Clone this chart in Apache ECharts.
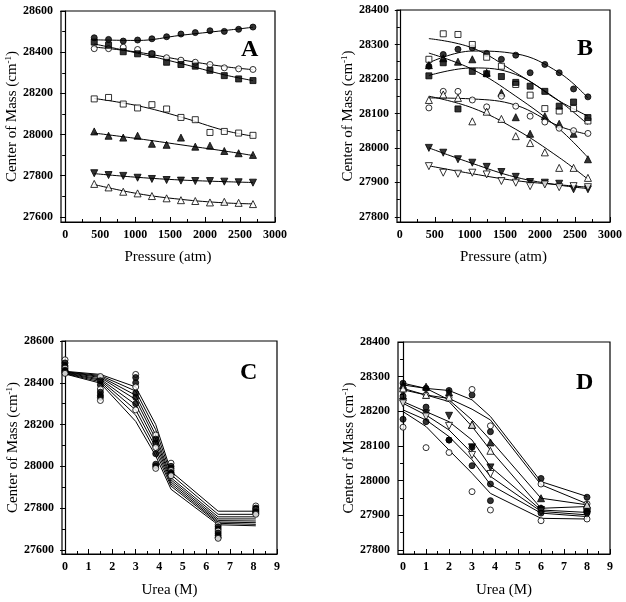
<!DOCTYPE html>
<html>
<head>
<meta charset="utf-8">
<script src="https://cdn.jsdelivr.net/npm/echarts@6/dist/echarts.min.js"></script>
<style>
html,body{margin:0;padding:0;background:#fff;}
#chart{width:626px;height:602px;}
</style>
</head>
<body>
<div id="chart"></div>
<script>
// ---------- Panel A / B : pressure ----------
const pressure = [415, 620, 830, 1035, 1240, 1450, 1655, 1860, 2070, 2275, 2480, 2685];
const fitPressure = [415, 1035, 1655, 2275, 2685];

const aFilledCircle = [28470, 28462, 28454, 28459, 28465, 28475, 28488, 28495, 28504, 28501, 28511, 28522];
const aOpenCircle   = [28417, 28417, 28424, 28413, 28394, 28373, 28361, 28351, 28340, 28324, 28319, 28316];
const aFilledSquare = [28449, 28434, 28402, 28392, 28389, 28351, 28340, 28332, 28312, 28286, 28270, 28262];
const aOpenSquare   = [28173, 28180, 28148, 28129, 28145, 28124, 28083, 28072, 28010, 28015, 28007, 27996];
const aFilledTri    = [28015, 27994, 27985, 27994, 27955, 27950, 27985, 27941, 27946, 27920, 27909, 27901];
const aFilledDown   = [27812, 27803, 27799, 27790, 27784, 27779, 27776, 27774, 27774, 27771, 27768, 27766];
const aOpenTri      = [27760, 27743, 27722, 27714, 27701, 27690, 27681, 27677, 27670, 27673, 27668, 27662];

const aFitFilledCircle = [28460, 28457, 28482, 28505, 28521];
const aFitOpenCircle   = [28425, 28400, 28363, 28330, 28315];
const aFitFilledSquare = [28440, 28395, 28345, 28290, 28262];
const aFitOpenSquare   = [28175, 28140, 28085, 28020, 27992];
const aFitFilledTri    = [28007, 27980, 27950, 27920, 27898];
const aFitFilledDown   = [27810, 27792, 27779, 27771, 27767];
const aFitOpenTri      = [27757, 27713, 27685, 27668, 27663];

const bFilledCircle = [28237, 28271, 28286, 28290, 28274, 28257, 28269, 28218, 28242, 28218, 28171, 28148];
const bOpenSquare   = [28257, 28331, 28329, 28300, 28263, 28237, 28184, 28153, 28114, 28107, 28114, 28078];
const bFilledSquare = [28209, 28247, 28113, 28222, 28215, 28207, 28190, 28179, 28164, 28121, 28133, 28088];
const bFilledTri    = [28240, 28260, 28250, 28257, 28218, 28160, 28089, 28041, 28092, 28070, 28041, 27967];
const bOpenCircle   = [28116, 28164, 28164, 28139, 28119, 28150, 28121, 28092, 28075, 28057, 28050, 28042];
const bOpenTri      = [28139, 28155, 28145, 28077, 28105, 28084, 28034, 28014, 27987, 27942, 27942, 27913];
const bFilledDown   = [28000, 27986, 27967, 27957, 27945, 27930, 27916, 27901, 27899, 27896, 27880, 27880];
const bOpenDown     = [27947, 27928, 27925, 27928, 27923, 27904, 27899, 27889, 27894, 27886, 27889, 27886];

const bFitFilledCircle = [28247, 28281, 28273, 28218, 28145];
const bFitOpenSquare   = [28317, 28290, 28218, 28136, 28068];
const bFitFilledSquare = [28210, 28232, 28213, 28136, 28092];
const bFitFilledTri    = [28275, 28228, 28150, 28055, 27972];
const bFitOpenCircle   = [28145, 28142, 28124, 28063, 28039];
const bFitOpenTri      = [28150, 28116, 28054, 27972, 27909];
const bFitFilledDown   = [28000, 27955, 27915, 27892, 27882];
const bFitOpenDown     = [27948, 27925, 27905, 27893, 27886];

// ---------- Panel C : urea ----------
const ureaC = [0, 1.5, 3, 3.85, 4.5, 6.5, 8.1];
const cFit1 = [28455, 28440, 28380, 28200, 27975, 27785, 27785];
const cFit2 = [28453, 28435, 28360, 28175, 27960, 27770, 27770];
const cFit3 = [28452, 28430, 28340, 28150, 27945, 27758, 27758];
const cFit4 = [28450, 28425, 28320, 28130, 27935, 27748, 27748];
const cFit5 = [28448, 28418, 28295, 28110, 27925, 27740, 27738];
const cFit6 = [28446, 28412, 28270, 28090, 27915, 27733, 27730];
const cFit7 = [28444, 28405, 28245, 28070, 27905, 27727, 27722];
const cFit8 = [28442, 28398, 28215, 28050, 27890, 27720, 27715];
const cData1 = [28510, 28430, 28440, 28150, 28015, 27720, 27810];
const cData2 = [28495, 28410, 28425, 28130, 28000, 27710, 27800];
const cData3 = [28480, 28390, 28400, 28110, 27990, 27700, 27795];
const cData4 = [28470, 28370, 28380, 28090, 27980, 27690, 27790];
const cData5 = [28460, 28355, 28350, 28060, 27970, 27680, 27785];
const cData6 = [28455, 28340, 28330, 28010, 27965, 27670, 27780];
const cData7 = [28450, 28330, 28300, 28000, 27960, 27660, 27775];
const cData8 = [28445, 28315, 28270, 27990, 27955, 27655, 27770];

// ---------- Panel D : urea ----------
const ureaD = [0, 1, 2, 3, 3.8, 6, 8];
const dFit1 = [28281, 28266, 28260, 28233, 28185, 27997, 27954];
const dFit2 = [28262, 28247, 28237, 28206, 28175, 27988, 27933];
const dFit3 = [28276, 28266, 28233, 28175, 28117, 27949, 27930];
const dFit4 = [28266, 28247, 28228, 28156, 28088, 27920, 27925];
const dFit5 = [28228, 28199, 28170, 28117, 28040, 27915, 27908];
const dFit6 = [28223, 28189, 28146, 28079, 28012, 27911, 27901];
const dFit7 = [28204, 28175, 28127, 28060, 27988, 27906, 27896];
const dFit8 = [28199, 28156, 28088, 28021, 27963, 27891, 27889];
const dData1 = [28281, 28266, 28260, 28247, 28141, 28006, 27952];
const dData2 = [28262, 28247, 28240, 28263, 28158, 27990, 27933];
const dData3 = [28276, 28271, 28255, 28161, 28110, 27949, 27930];
const dData4 = [28266, 28247, 28240, 28161, 28086, 27920, 27930];
const dData5 = [28228, 28194, 28187, 28096, 28038, 27915, 27906];
const dData6 = [28223, 28185, 28158, 28074, 28019, 27911, 27901];
const dData7 = [28177, 28170, 28117, 28043, 27990, 27920, 27911];
const dData8 = [28154, 28095, 28081, 27968, 27915, 27884, 27889];
const dData9 = [28244, 28212, 28117, 28096, 27942, 27906, 27906];

// ---------- tick labels ----------
const pressureTicks = [0, 500, 1000, 1500, 2000, 2500, 3000];
const pressureMinor = [250, 750, 1250, 1750, 2250, 2750];
const ureaTicks = [0, 1, 2, 3, 4, 5, 6, 7, 8, 9];
const ureaMinor = [0.5, 1.5, 2.5, 3.5, 4.5, 5.5, 6.5, 7.5, 8.5];
const yTicksWide = [27600, 27800, 28000, 28200, 28400, 28600];
const yMinorWide = [27700, 27900, 28100, 28300, 28500];
const yTicksNarrow = [27800, 27900, 28000, 28100, 28200, 28300, 28400];
const yMinorNarrow = [27850, 27950, 28050, 28150, 28250, 28350];

// ---------- styling helpers ----------
const FONT = "'Liberation Serif', 'Times New Roman', serif";
const STY = {
  fc: {symbol: 'circle', fill: '#000', size: 6, rot: 0},
  oc: {symbol: 'circle', fill: '#fff', size: 6, rot: 0},
  fs: {symbol: 'rect', fill: '#000', size: 6, rot: 0},
  os: {symbol: 'rect', fill: '#fff', size: 6, rot: 0},
  ft: {symbol: 'triangle', fill: '#000', size: 7, rot: 0},
  ot: {symbol: 'triangle', fill: '#fff', size: 7, rot: 0},
  fd: {symbol: 'triangle', fill: '#000', size: 7, rot: 180},
  od: {symbol: 'triangle', fill: '#fff', size: 7, rot: 180}
};
function pairs(xs, ys){ return xs.map((x,i)=>[x, ys[i]]); }
function scatter(idx, xs, ys, key){
  const s = STY[key];
  return {type:'scatter', xAxisIndex: idx, yAxisIndex: idx, data: pairs(xs, ys),
    symbol: s.symbol, symbolSize: s.size, symbolRotate: s.rot, z: 5,
    itemStyle: {color: s.fill, borderColor: '#000', borderWidth: 1}, silent: true};
}
function line(idx, xs, ys, smooth){
  return {type:'line', xAxisIndex: idx, yAxisIndex: idx, data: pairs(xs, ys), smooth: smooth,
    showSymbol: false, symbol: 'none', z: 3, lineStyle: {color: '#000', width: 1}, silent: true};
}

const grids = [
  {left: 61, top: 11, width: 214, height: 211},
  {left: 397, top: 10, width: 213, height: 212},
  {left: 62, top: 341, width: 215, height: 213},
  {left: 398, top: 342, width: 212, height: 212}
].map(g => Object.assign(g, {show: true, borderColor: '#000', borderWidth: 1.2, backgroundColor: 'transparent'}));

const xSpecs = [
  {min: -60, max: 3000, ticks: pressureTicks, minor: pressureMinor, name: 'Pressure (atm)', gap: 28},
  {min: -40, max: 3000, ticks: pressureTicks, minor: pressureMinor, name: 'Pressure (atm)', gap: 28},
  {min: -0.13, max: 9, ticks: ureaTicks, minor: ureaMinor, name: 'Urea (M)', gap: 29},
  {min: -0.22, max: 9, ticks: ureaTicks, minor: ureaMinor, name: 'Urea (M)', gap: 29}
];
const ySpecs = [
  {min: 27575, max: 28600, ticks: yTicksWide, minor: yMinorWide},
  {min: 27785, max: 28400, ticks: yTicksNarrow, minor: yMinorNarrow},
  {min: 27580, max: 28600, ticks: yTicksWide, minor: yMinorWide},
  {min: 27788, max: 28400, ticks: yTicksNarrow, minor: yMinorNarrow}
];

const labelStyle = {fontFamily: FONT, fontWeight: 'bold', fontSize: 12, color: '#000', formatter: v => String(v)};
const xAxes = [], yAxes = [];
xSpecs.forEach((s, i) => {
  xAxes.push({type: 'value', gridIndex: i, min: s.min, max: s.max, position: 'bottom',
    name: s.name, nameLocation: 'middle', nameGap: s.gap,
    nameTextStyle: {fontFamily: FONT, fontSize: 15, color: '#000'},
    splitLine: {show: false},
    axisLine: {show: true, lineStyle: {color: '#000', width: 1.2}},
    axisTick: {show: true, inside: true, length: 5, customValues: s.ticks, lineStyle: {color: '#000', width: 1}},
    axisLabel: Object.assign({show: true, margin: 7, customValues: s.ticks}, labelStyle)});
});
ySpecs.forEach((s, i) => {
  yAxes.push({type: 'value', gridIndex: i, min: s.min, max: s.max, position: 'left',
    name: 'Center of Mass (cm{sup|-1})', nameLocation: 'middle', nameGap: 31,
    nameTextStyle: {fontFamily: FONT, fontSize: 15, color: '#000',
      rich: {sup: {fontFamily: FONT, fontSize: 9, color: '#000', verticalAlign: 'top', lineHeight: 9}}},
    splitLine: {show: false},
    axisLine: {show: true, lineStyle: {color: '#000', width: 1.2}},
    axisTick: {show: true, inside: false, length: 5, customValues: s.ticks, lineStyle: {color: '#000', width: 1}},
    axisLabel: Object.assign({show: true, margin: 8, customValues: s.ticks}, labelStyle)});
});
// minor tick axes
xSpecs.forEach((s, i) => {
  xAxes.push({type: 'value', gridIndex: i, min: s.min, max: s.max, position: 'bottom',
    splitLine: {show: false}, axisLine: {show: false},
    axisTick: {show: true, inside: true, length: 3, customValues: s.minor, lineStyle: {color: '#000', width: 1}},
    axisLabel: {show: false}});
});
ySpecs.forEach((s, i) => {
  yAxes.push({type: 'value', gridIndex: i, min: s.min, max: s.max, position: 'left',
    splitLine: {show: false}, axisLine: {show: false},
    axisTick: {show: true, inside: false, length: 3, customValues: s.minor, lineStyle: {color: '#000', width: 1}},
    axisLabel: {show: false}});
});

const series = [];
// Panel A
[aFitFilledCircle, aFitOpenCircle, aFitFilledSquare, aFitOpenSquare, aFitFilledTri, aFitFilledDown, aFitOpenTri]
  .forEach(f => series.push(line(0, fitPressure, f, 0.4)));
series.push(scatter(0, pressure, aFilledCircle, 'fc'));
series.push(scatter(0, pressure, aOpenCircle, 'oc'));
series.push(scatter(0, pressure, aFilledSquare, 'fs'));
series.push(scatter(0, pressure, aOpenSquare, 'os'));
series.push(scatter(0, pressure, aFilledTri, 'ft'));
series.push(scatter(0, pressure, aFilledDown, 'fd'));
series.push(scatter(0, pressure, aOpenTri, 'ot'));
// Panel B
[bFitFilledCircle, bFitOpenSquare, bFitFilledSquare, bFitFilledTri, bFitOpenCircle, bFitOpenTri, bFitFilledDown, bFitOpenDown]
  .forEach(f => series.push(line(1, fitPressure, f, 0.4)));
series.push(scatter(1, pressure, bFilledCircle, 'fc'));
series.push(scatter(1, pressure, bOpenSquare, 'os'));
series.push(scatter(1, pressure, bFilledSquare, 'fs'));
series.push(scatter(1, pressure, bFilledTri, 'ft'));
series.push(scatter(1, pressure, bOpenCircle, 'oc'));
series.push(scatter(1, pressure, bOpenTri, 'ot'));
series.push(scatter(1, pressure, bFilledDown, 'fd'));
series.push(scatter(1, pressure, bOpenDown, 'od'));
// Panel C
[cFit1, cFit2, cFit3, cFit4, cFit5, cFit6, cFit7, cFit8].forEach(f => series.push(line(2, ureaC, f, false)));
[[cData1,'oc'],[cData2,'fc'],[cData3,'fc'],[cData4,'oc'],[cData5,'fc'],[cData6,'fc'],[cData7,'fc'],[cData8,'oc']]
  .forEach(d => series.push(scatter(2, ureaC, d[0], d[1])));
// Panel D
[dFit1, dFit2, dFit3, dFit4, dFit5, dFit6, dFit7, dFit8].forEach(f => series.push(line(3, ureaD, f, false)));
[[dData1,'fc'],[dData2,'oc'],[dData3,'ft'],[dData4,'ot'],[dData5,'fd'],[dData6,'od'],[dData7,'fc'],[dData8,'oc'],[dData9,'fc']]
  .forEach(d => series.push(scatter(3, ureaD, d[0], d[1])));

const panelLetter = (t, x, y) => ({type: 'text', left: x, top: y,
  style: {text: t, font: "bold 24px 'Liberation Serif', serif", fill: '#000'}});

const chart = echarts.init(document.getElementById('chart'), null, {renderer: 'canvas'});
chart.setOption({
  animation: false,
  backgroundColor: '#fff',
  grid: grids,
  xAxis: xAxes,
  yAxis: yAxes,
  series: series,
  graphic: [panelLetter('A', 241, 38), panelLetter('B', 577, 37), panelLetter('C', 240, 361), panelLetter('D', 576, 371)]
});
</script>
</body>
</html>
